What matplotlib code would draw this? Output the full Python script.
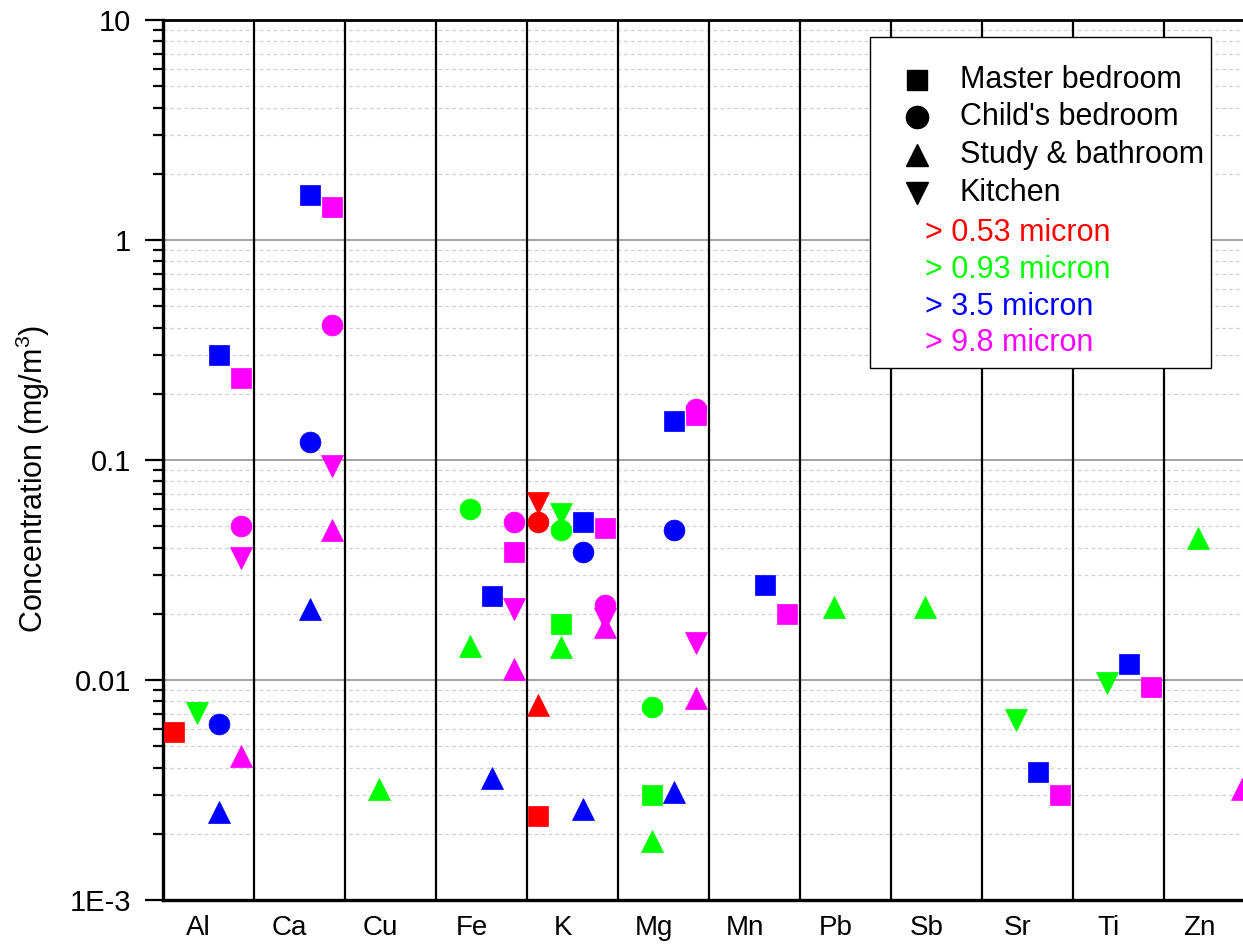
import matplotlib
matplotlib.use('Agg')
import matplotlib.pyplot as plt
import numpy as np
from matplotlib.lines import Line2D
from matplotlib.patches import Rectangle
import matplotlib.transforms as mtransforms
from matplotlib.ticker import FixedLocator, NullFormatter, FixedFormatter

plt.rcParams['font.family'] = ['Liberation Sans', 'DejaVu Sans']
plt.rcParams['mathtext.fontset'] = 'custom'
plt.rcParams['mathtext.rm'] = 'Liberation Sans'
plt.rcParams['mathtext.it'] = 'Liberation Sans:italic'

nan = np.nan

elements = ['Al', 'Ca', 'Cu', 'Fe', 'K', 'Mg', 'Mn', 'Pb', 'Sb', 'Sr', 'Ti', 'Zn']
rooms = ['Master bedroom', "Child's bedroom", 'Study & bathroom', 'Kitchen']
room_markers = ['s', 'o', '^', 'v']
sizes = ['> 0.53 micron', '> 0.93 micron', '> 3.5 micron', '> 9.8 micron']
size_colors = ['#ff0000', '#00ff00', '#0000ff', '#ff00ff']

y_ticks = [1e-3, 1e-2, 1e-1, 1, 10]
y_ticklabels = ['1E-3', '0.01', '0.1', '1', '10']

# values per element (Al, Ca, Cu, Fe, K, Mg, Mn, Pb, Sb, Sr, Ti, Zn)
red_master = [0.0058, nan, nan, nan, 0.0024, nan, nan, nan, nan, nan, nan, nan]
red_child = [nan, nan, nan, nan, 0.052, nan, nan, nan, nan, nan, nan, nan]
red_study = [nan, nan, nan, nan, 0.0077, nan, nan, nan, nan, nan, nan, nan]
red_kitchen = [nan, nan, nan, nan, 0.064, nan, nan, nan, nan, nan, nan, nan]

green_master = [nan, nan, nan, nan, 0.018, 0.0030, nan, nan, nan, nan, nan, nan]
green_child = [nan, nan, nan, 0.060, 0.048, 0.0075, nan, nan, nan, nan, nan, nan]
green_study = [nan, nan, 0.0032, 0.0143, 0.0141, 0.00185, nan, 0.0215, 0.0215, nan, nan, 0.044]
green_kitchen = [0.0071, nan, nan, nan, 0.057, nan, nan, nan, nan, 0.0066, 0.0097, nan]

blue_master = [0.30, 1.60, nan, 0.024, 0.052, 0.151, 0.027, nan, nan, 0.0038, 0.0118, nan]
blue_child = [0.0063, 0.121, nan, nan, 0.038, 0.048, nan, nan, nan, nan, nan, nan]
blue_study = [0.0025, 0.021, nan, 0.0036, 0.0026, 0.0031, nan, nan, nan, nan, nan, nan]
blue_kitchen = [nan] * 12

magenta_master = [0.237, 1.41, nan, 0.038, 0.049, 0.160, 0.020, nan, nan, 0.0030, 0.0093, nan]
magenta_child = [0.050, 0.41, nan, 0.052, 0.022, 0.171, nan, nan, nan, nan, nan, nan]
magenta_study = [0.0045, 0.048, nan, 0.0112, 0.0174, 0.0083, nan, nan, nan, nan, nan, 0.0032]
magenta_kitchen = [0.036, 0.094, nan, 0.021, 0.019, 0.0147, nan, nan, nan, nan, nan, nan]

series = [
    [red_master, red_child, red_study, red_kitchen],
    [green_master, green_child, green_study, green_kitchen],
    [blue_master, blue_child, blue_study, blue_kitchen],
    [magenta_master, magenta_child, magenta_study, magenta_kitchen],
]

W, H = 1243, 947
fig = plt.figure(figsize=(W / 100, H / 100), dpi=100)

def fx(px):
    return px / W

def fy(py):
    return 1 - py / H

ax_left, ax_right, ax_top, ax_bot = 163, 1255, 20, 900
ax = fig.add_axes([fx(ax_left), fy(ax_bot), (ax_right - ax_left) / W, (ax_bot - ax_top) / H])

x = np.arange(1, len(elements) + 1)
offsets = [-0.38, -0.13, 0.11, 0.36]
msizes = {'s': 13.8, 'o': 15, '^': 15.5, 'v': 15.5}
draw_order = [0, 2, 3, 1]  # square, up, down, circle

for ci, color in enumerate(size_colors):
    for ri in draw_order:
        vals = np.array(series[ci][ri], dtype=float)
        m = room_markers[ri]
        ax.plot(x + offsets[ci], vals, linestyle='none', marker=m, ms=msizes[m],
                mfc=color, mec=color, mew=0.5, zorder=5, clip_on=True)

ax.set_yscale('log')
ax.set_ylim(1e-3, 10)
ax.set_xlim(0.5, len(elements) + 0.5)

# separators
for b in x[:-1] + 0.5:
    ax.axvline(b, color='black', lw=1.6, zorder=3)

# grid
ax.yaxis.set_major_locator(FixedLocator(y_ticks))
ax.yaxis.set_major_formatter(FixedFormatter(y_ticklabels))
minor = [m * 10.0 ** e for e in range(-3, 1) for m in range(2, 10)]
ax.yaxis.set_minor_locator(FixedLocator(minor))
ax.yaxis.set_minor_formatter(NullFormatter())
ax.grid(True, which='major', axis='y', color='#9a9a9a', lw=1.3, zorder=1)
ax.grid(True, which='minor', axis='y', color='#d0d0d0', lw=0.9, ls=(0, (3, 2.5)), zorder=1)
ax.set_axisbelow(True)

ax.tick_params(axis='y', which='major', direction='out', length=13, width=1.6,
               labelsize=21, pad=10)
ax.tick_params(axis='y', which='minor', direction='out', length=7, width=1.6)
ax.set_xticks(x)
ax.set_xticklabels(elements)
ax.tick_params(axis='x', which='both', length=0, labelsize=20, pad=11)
off = mtransforms.ScaledTranslation(-0.10, 0, fig.dpi_scale_trans)
for lab in ax.get_xticklabels():
    lab.set_transform(lab.get_transform() + off)

for s in ['left', 'bottom']:
    ax.spines[s].set_linewidth(2.4)
ax.spines['top'].set_linewidth(2.0)
ax.spines['right'].set_linewidth(2.0)

fig.text(fx(33), fy(479), 'Concentration (mg/m$^3$)', rotation=90,
         ha='center', va='center', fontsize=22)

# legend box (manual)
lx0, ly0, lx1, ly1 = 870, 37, 1211, 368
fig.patches.append(Rectangle((fx(lx0), fy(ly1)), fx(lx1) - fx(lx0), fy(ly0) - fy(ly1),
                             transform=fig.transFigure, facecolor='white',
                             edgecolor='black', lw=1.0, zorder=10))
row_y = [80, 117, 155, 193]
for ri, name in enumerate(rooms):
    m = room_markers[ri]
    fig.lines.append(Line2D([fx(917)], [fy(row_y[ri])], transform=fig.transFigure,
                            marker=m, ms=msizes[m] + 1, mfc='black', mec='black',
                            linestyle='none', zorder=11))
    fig.text(fx(960), fy(row_y[ri]), name, fontsize=22, ha='left', va='center',
             zorder=11)
col_y = [233, 270, 307, 343]
for ci, name in enumerate(sizes):
    fig.text(fx(925), fy(col_y[ci]), name, fontsize=22, color=size_colors[ci],
             ha='left', va='center', zorder=11)

fig.savefig('out.png', dpi=100)
